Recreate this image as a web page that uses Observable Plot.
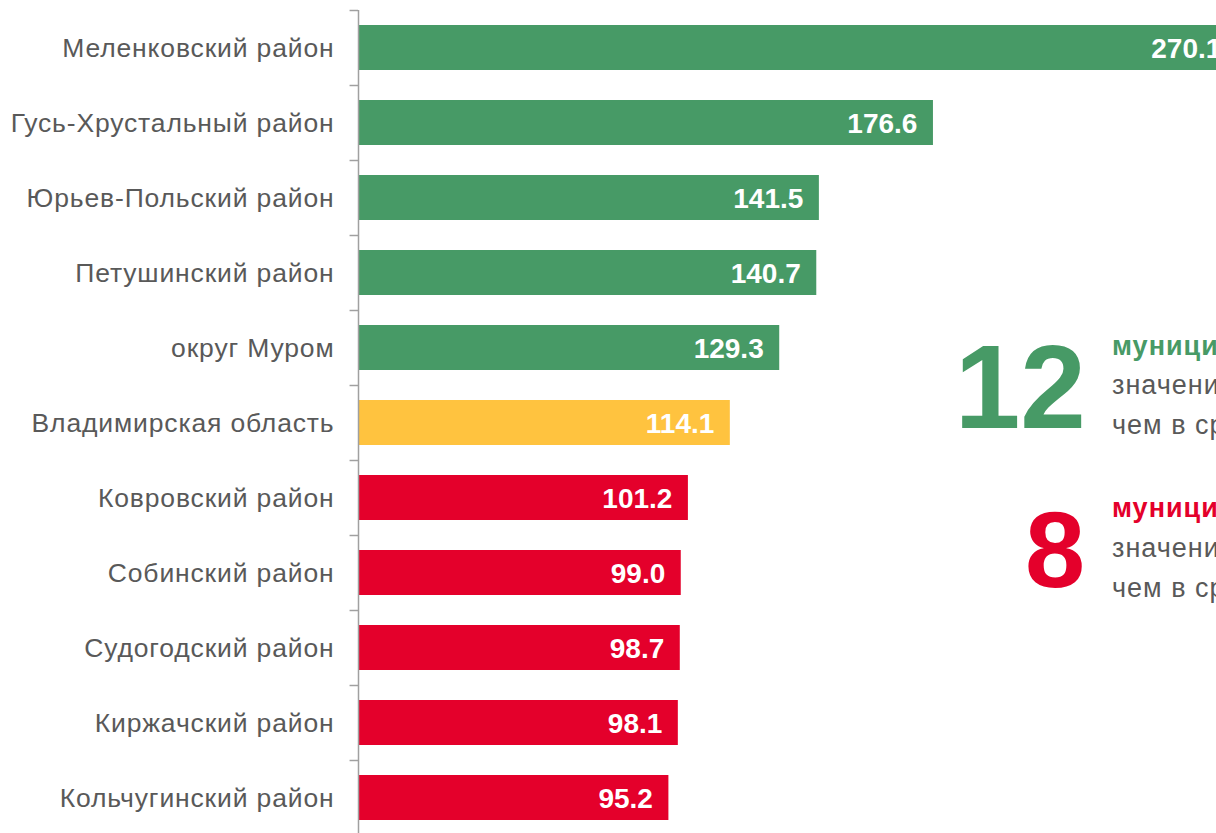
<!DOCTYPE html>
<html>
<head>
<meta charset="utf-8">
<script src="https://cdn.jsdelivr.net/npm/d3@7"></script>
<script src="https://cdn.jsdelivr.net/npm/@observablehq/plot@0.6"></script>
<style>
  html, body { margin: 0; padding: 0; background: #fff; overflow: hidden; }
  #wrap { position: relative; width: 1216px; height: 833px; overflow: hidden; font-family: "Liberation Sans", Arial, sans-serif; }
  #chart { position: absolute; left: 0; top: 0; }
  #chart svg { max-width: none !important; }
  #chart g[aria-label="y-axis tick label"] text { letter-spacing: 0.85px; }
  .t { position: absolute; white-space: nowrap; line-height: 1; }
  .s { font-size: 27px; letter-spacing: 1px; }
</style>
</head>
<body>
<div id="wrap">
  <div id="chart"></div>
  <div class="t" style="left:0;width:1086px;text-align:right;top:328px;font-size:118px;font-weight:bold;color:#479A66;">12</div>
  <div class="t s" style="left:1112px;top:333px;font-weight:bold;color:#479A66;">муниципальных образований</div>
  <div class="t s" style="left:1112px;top:372px;color:#595959;">значение показателя выше,</div>
  <div class="t s" style="left:1112px;top:412px;color:#595959;">чем в среднем по области</div>
  <div class="t" style="left:0;width:1085px;text-align:right;top:496px;font-size:108px;font-weight:bold;color:#E4002B;">8</div>
  <div class="t s" style="left:1112px;top:495px;font-weight:bold;color:#E4002B;">муниципальных образований</div>
  <div class="t s" style="left:1112px;top:535px;color:#595959;">значение показателя ниже,</div>
  <div class="t s" style="left:1112px;top:575px;color:#595959;">чем в среднем по области</div>
</div>
<script>
const names = [
  "Меленковский район",
  "Гусь-Хрустальный район",
  "Юрьев-Польский район",
  "Петушинский район",
  "округ Муром",
  "Владимирская область",
  "Ковровский район",
  "Собинский район",
  "Судогодский район",
  "Киржачский район",
  "Кольчугинский район"
];
const values = [270.1, 176.6, 141.5, 140.7, 129.3, 114.1, 101.2, 99.0, 98.7, 98.1, 95.2];
const groups = ["above", "above", "above", "above", "above", "region", "below", "below", "below", "below", "below"];
const groupNames = ["above", "region", "below"];
const groupColors = ["#479A66", "#FFC33F", "#E4002B"];

const data = names.map((n, i) => ({name: n, value: values[i], group: groups[i]}));

const chart = Plot.plot({
  width: 1269,
  height: 835,
  marginLeft: 359,
  marginRight: 0,
  marginTop: 10,
  marginBottom: 0,
  style: {fontFamily: "'Liberation Sans', Arial, sans-serif", color: "#595959", background: "transparent", overflow: "visible", maxWidth: "none"},
  x: {domain: [0, 280], axis: null},
  y: {domain: names, paddingInner: 0.4, paddingOuter: 0.2, axis: null},
  color: {domain: groupNames, range: groupColors},
  marks: [
    Plot.barX(data, {x: "value", y: "name", fill: "group"}),
    Plot.axisY({tickSize: 0, tickPadding: 25, fontSize: 26.5, label: null, fill: "#595959", dy: 1}),
    Plot.ruleX([0], {stroke: "#A0A0A0", strokeWidth: 1.5, dx: -1}),
    Plot.ruleY(data, {y: "name", x1: -2.6, x2: 0, dy: -37.5, dx: -1, stroke: "#A0A0A0", strokeWidth: 1.5}),
    Plot.text(data, {x: "value", y: "name", text: d => d.value.toFixed(1), textAnchor: "end", dx: -16, dy: 1, fill: "white", fontWeight: "bold", fontSize: 28})
  ]
});
document.getElementById("chart").appendChild(chart);
</script>
</body>
</html>
